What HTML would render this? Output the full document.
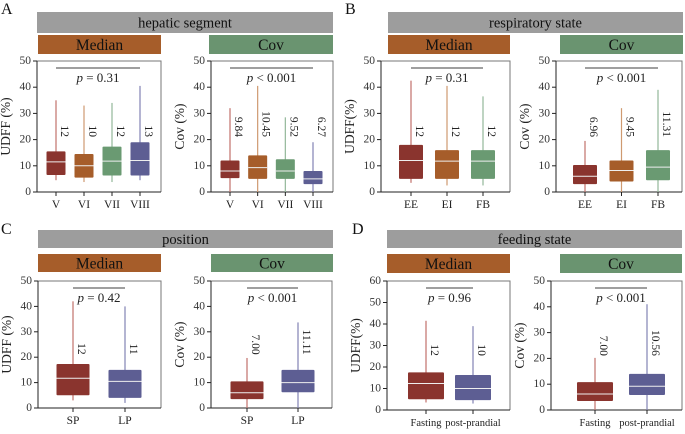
<!DOCTYPE html>
<html><head><meta charset="utf-8"><style>
html,body{margin:0;padding:0;background:#fff;}
svg, svg text, svg tspan{font-family:"Liberation Serif","Times New Roman","DejaVu Serif",serif;}
</style></head><body>
<svg id="fig" width="685" height="429" viewBox="0 0 685 429" xmlns="http://www.w3.org/2000/svg" font-family="Liberation Serif, Times New Roman, DejaVu Serif, serif"></svg>
<script>
// ---- data: [min, q1, median, q3, max] per category ----
const aCats = ["V","VI","VII","VIII"];
const aMedianStats = [[4.5,6.5,11.5,15.5,35],[3.8,5.5,10,14.5,33],[3.8,6.3,11.8,17.3,34],[4.5,6.3,12,19,40.5]];
const aMedianLabels = ["12","10","12","13"];
const aCovStats = [[0,5.3,8,12,32],[0,5,9.3,14,40.5],[0,5,8,12.5,28.5],[0,3,5,8,19]];
const aCovLabels = ["9.84","10.45","9.52","6.27"];
const bCats = ["EE","EI","FB"];
const bMedianStats = [[3.5,5,12,18,42.5],[2.5,5,11.8,16,40.5],[2.5,5,11.8,16,36.5]];
const bMedianLabels = ["12","12","12"];
const bCovStats = [[0,3,6,10.3,19.5],[0,4,8.2,12,32],[0,4.5,9.5,16,39]];
const bCovLabels = ["6.96","9.45","11.31"];
const cCats = ["SP","LP"];
const cMedianStats = [[3,5,11.7,17.3,42],[2,4,10.5,15,40]];
const cMedianLabels = ["12","11"];
const cCovStats = [[0,3.5,6,10.5,19.7],[0,6.2,10,15,33.7]];
const cCovLabels = ["7.00","11.11"];
const dCats = ["Fasting","post-prandial"];
const dMedianStats = [[3.5,5,12.3,17.5,41.5],[3,4.6,10,16.3,39]];
const dMedianLabels = ["12","10"];
const dCovStats = [[0,3.5,6.2,10.8,20.2],[0,5.8,9.2,14,41]];
const dCovLabels = ["7.00","10.56"];
const ticks50 = [0,10,20,30,40,50];
const ticks60 = [0,10,20,30,40,50,60];

const NS="http://www.w3.org/2000/svg";
const svg=document.getElementById('fig');
const FF="Liberation Serif, Times New Roman, DejaVu Serif, serif";
function mk(tag,attrs,parent,text){const e=document.createElementNS(NS,tag);for(const k in attrs)e.setAttribute(k,attrs[k]);if(tag==='text')e.setAttribute('font-family',FF);if(text!==undefined)e.textContent=text;(parent||svg).appendChild(e);return e;}

const FILL={red:"#8a342e",orange:"#a65d2a",green:"#6a9a72",purple:"#5d5e93"};
const WH={red:"#c0706a",orange:"#cf9a70",green:"#93b89a",purple:"#8283b3"};

function banner(x0,x1,y0,y1,fill,txt,size,name){
  const g=mk('g',{});
  
  
  mk('rect',{x:x0,y:y0,width:x1-x0,height:y1-y0,fill:fill},g);
  mk('text',{x:(x0+x1)/2,y:(y0+y1)/2+1,'text-anchor':'middle','dominant-baseline':'central','font-size':size,fill:'#111'},g,txt);
}
function panelLetter(x,y,t){
  const e=mk('text',{x:x,y:y,'font-size':16,fill:'#111'},svg,t);
  
  
}

function plot(o){
  const g=mk('g',{});
  
  
  const yS=v=>o.y1-(v/o.ymax)*(o.y1-o.y0);
  const n=o.cats.length;
  const xS=i=>o.x0+o.padL+i*((o.x1-o.x0-o.padL-o.padR)/(n-1));
  mk('path',{d:`M${o.x0},${o.y0} H${o.x1} V${o.y1}`,fill:'none',stroke:'#777','stroke-width':1},g);
  const ax=mk('line',{x1:o.x0,y1:o.y0,x2:o.x0,y2:o.y1,stroke:'#222','stroke-width':1},g);
  
  
  const bx=mk('line',{x1:o.x0,y1:o.y1,x2:o.x1,y2:o.y1,stroke:'#222','stroke-width':1},g);
  
  
  o.ticks.forEach(t=>{
    mk('line',{x1:o.x0-4,y1:yS(t),x2:o.x0,y2:yS(t),stroke:'#222'},g);
    const tl=mk('text',{x:o.x0-6,y:yS(t),'text-anchor':'end','dominant-baseline':'central','font-size':11.5,fill:'#333'},g,String(t));
    
    
  });
  const yl=mk('text',{transform:`translate(${o.x0-27},${(o.y0+o.y1)/2}) rotate(-90)`,'text-anchor':'middle','font-size':13.5,fill:'#222'},g,o.ylabel);
  
  
  o.cats.forEach((c,i)=>{
    const cx=xS(i), s=o.stats[i], col=o.colors[i];
    mk('line',{x1:cx,y1:o.y1,x2:cx,y2:o.y1+4,stroke:'#222'},g);
    const cl=mk('text',{x:cx,y:o.y1+16,'text-anchor':'middle','font-size':o.xfs||11.5,fill:'#222'},g,c);
    
    
    const w=mk('line',{x1:cx,y1:yS(s[0]),x2:cx,y2:yS(s[4]),stroke:WH[col],'stroke-width':1.2},g);
    
    
    const b=mk('rect',{x:cx-o.bw/2,y:yS(s[3]),width:o.bw,height:yS(s[1])-yS(s[3]),fill:FILL[col],rx:1},g);
    
    
    mk('line',{x1:cx-o.bw/2,y1:yS(s[2]),x2:cx+o.bw/2,y2:yS(s[2]),stroke:'#eee','stroke-width':1},g);
    const lx=cx+8, ly=o.y1-0.42*(o.y1-o.y0);
    const an=mk('text',{transform:`translate(${lx},${ly}) rotate(90)`,'text-anchor':'end','dominant-baseline':'central','font-size':11.5,fill:'#222'},g,o.labels[i]);
    
    
  });
  const by=o.y0+7;
  const pb=mk('line',{x1:xS(0),y1:by,x2:xS(n-1),y2:by,stroke:'#666','stroke-width':1.2},g);
  
  
  const pt=mk('text',{x:(xS(0)+xS(n-1))/2,y:by+14,'text-anchor':'middle','font-size':13,fill:'#222'},g);
  
  
  mk('tspan',{'font-style':'italic','font-family':FF},pt,'p');
  mk('tspan',{'font-family':FF},pt,' '+o.p);
}

panelLetter(1,14,"A");
banner(37,333,12,33,"#9d9d9d","hepatic segment",14.5,"banner-hepatic-segment");
banner(38,161,35,54,"#a65d2a","Median",15.5,"banner-median-a");
banner(209,333,35,54,"#6a9470","Cov",15.5,"banner-cov-a");
plot({name:'plot-a-median',x0:37,x1:161,y0:61,y1:192,ymax:50,ticks:ticks50,cats:aCats,stats:aMedianStats,labels:aMedianLabels,colors:['red','orange','green','purple'],padL:19,padR:21,bw:19,ylabel:'UDFF (%)',p:'= 0.31'});
plot({name:'plot-a-cov',x0:211,x1:333,y0:61,y1:192,ymax:50,ticks:ticks50,cats:aCats,stats:aCovStats,labels:aCovLabels,colors:['red','orange','green','purple'],padL:19,padR:20,bw:19,ylabel:'Cov (%)',p:'< 0.001'});
panelLetter(345,14,"B");
banner(388,683,12,33,"#9d9d9d","respiratory state",14.5,"banner-respiratory-state");
banner(388,510,35,54,"#a65d2a","Median",15.5,"banner-median-b");
banner(560,683,35,54,"#6a9470","Cov",15.5,"banner-cov-b");
plot({name:'plot-b-median',x0:381,x1:510,y0:61,y1:192,ymax:50,ticks:ticks50,cats:bCats,stats:bMedianStats,labels:bMedianLabels,colors:['red','orange','green'],padL:30,padR:27,bw:24,ylabel:'UDFF(%)',p:'= 0.31'});
plot({name:'plot-b-cov',x0:556,x1:682,y0:61,y1:192,ymax:50,ticks:ticks50,cats:bCats,stats:bCovStats,labels:bCovLabels,colors:['red','orange','green'],padL:29,padR:24,bw:24,ylabel:'Cov (%)',p:'< 0.001'});
panelLetter(1,234,"C");
banner(38,333,230,248,"#9d9d9d","position",14.5,"banner-position");
banner(38,161,254,272,"#a65d2a","Median",15.5,"banner-median-c");
banner(211,333,254,272,"#6a9470","Cov",15.5,"banner-cov-c");
plot({name:'plot-c-median',x0:38,x1:161,y0:281,y1:408,ymax:50,ticks:ticks50,cats:cCats,stats:cMedianStats,labels:cMedianLabels,colors:['red','purple'],padL:35,padR:36,bw:33,ylabel:'UDFF (%)',p:'= 0.42'});
plot({name:'plot-c-cov',x0:211,x1:332,y0:281,y1:408,ymax:50,ticks:ticks50,cats:cCats,stats:cCovStats,labels:cCovLabels,colors:['red','purple'],padL:36,padR:34,bw:33,ylabel:'Cov (%)',p:'< 0.001'});
panelLetter(352,234,"D");
banner(387,682,230,248,"#9d9d9d","feeding state",14.5,"banner-feeding-state");
banner(387,510,254,273,"#a65d2a","Median",15.5,"banner-median-d");
banner(560,682,254,273,"#6a9470","Cov",15.5,"banner-cov-d");
plot({name:'plot-d-median',x0:387,x1:510,y0:281,y1:410,ymax:60,ticks:ticks60,cats:dCats,stats:dMedianStats,labels:dMedianLabels,colors:['red','purple'],padL:39,padR:37,bw:36,xfs:10.5,ylabel:'UDFF(%)',p:'= 0.96'});
plot({name:'plot-d-cov',x0:551,x1:682,y0:281,y1:410,ymax:50,ticks:ticks50,cats:dCats,stats:dCovStats,labels:dCovLabels,colors:['red','purple'],padL:44,padR:35,bw:36,xfs:10.5,ylabel:'Cov (%)',p:'< 0.001'});
</script>
</body></html>
